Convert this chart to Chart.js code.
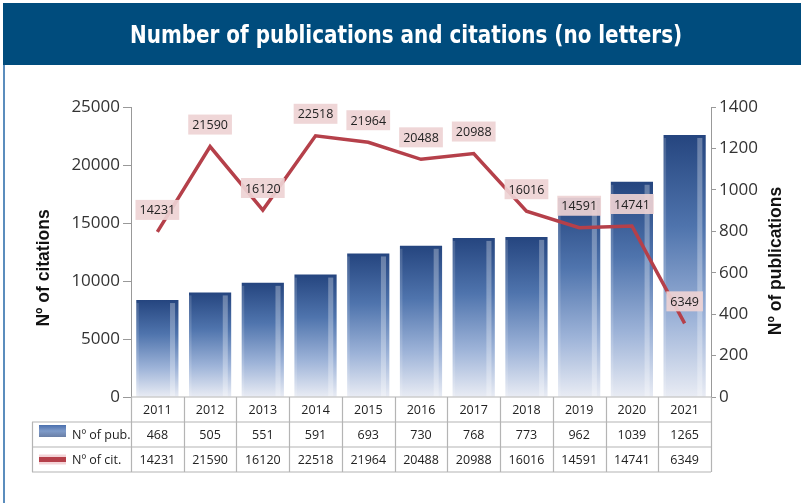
<!DOCTYPE html>
<html>
<head>
<meta charset="utf-8">
<script src="https://cdn.jsdelivr.net/npm/chart.js@4.4.1/dist/chart.umd.min.js"></script>
<style>
  html, body { margin: 0; padding: 0; background: #fff; }
  #wrap { position: relative; width: 801px; height: 503px; overflow: hidden; }
  #cv { position: absolute; left: 0; top: 0; }
  #head { position: absolute; left: 3px; top: 3px; width: 798px; height: 62px; background: #004c7d; z-index: 2; }
  #title { position: absolute; top: 0; left: 0; color: #fff; white-space: nowrap;
           font: 600 25px "Liberation Sans Narrow", "DejaVu Sans Condensed", "Open Sans", sans-serif;
           line-height: 64px; transform-origin: 0 50%; }
  #edge { position: absolute; left: 3px; top: 65px; width: 2px; height: 438px; background: #5b8dbd; z-index: 2; }
</style>
</head>
<body>
<div id="wrap">
  <canvas id="cv" width="801" height="503"></canvas>
  <div id="head"><span id="title">Number of publications and citations (no letters)</span></div>
  <div id="edge"></div>
</div>
<script>
// Datos del gráfico
const years = ['2011', '2012', '2013', '2014', '2015', '2016', '2017', '2018', '2019', '2020', '2021'];
const publications = [468, 505, 551, 591, 693, 730, 768, 773, 962, 1039, 1265];
const citations = [14231, 21590, 16120, 22518, 21964, 20488, 20988, 16016, 14591, 14741, 6349];
const citationTicks = { min: 0, max: 25000, step: 5000 };
const publicationTicks = { min: 0, max: 1400, step: 200 };
const labelPub = 'Nº of pub.';
const labelCit = 'Nº of cit.';
const titleLeft = 'Nº of citations';
const titleRight = 'Nº of publications';

// Titulo: ajustar al ancho del original
(function() {
    const t = document.getElementById('title');
    const w = t.offsetWidth;
    const target = 552;
    const s = target / w;
    t.style.transform = 'scaleX(' + s + ')';
    t.style.left = (406 - 3 - target / 2) + 'px';
})();

const RED = '#b5404a';
const TXT = '#222';
const GRID = '#b4b4b4';

function barGradient(context) {
    const chart = context.chart;
    const area = chart.chartArea;
    if (!area) return '#5a7fb8';
    const y = chart.scales.yPub;
    const top = y.getPixelForValue(context.raw);
    const bottom = y.getPixelForValue(0);
    const g = chart.ctx.createLinearGradient(0, top, 0, bottom);
    g.addColorStop(0, '#25457f');
    g.addColorStop(0.35, '#4f74ad');
    g.addColorStop(0.7, '#9db3d8');
    g.addColorStop(1, '#e9ecf4');
    return g;
}

// brillo lateral de las barras
const barShine = {
    id: 'barShine',
    afterDatasetDraw(chart, args) {
        if (args.index !== 0) return;
        const c = chart.ctx;
        c.save();
        args.meta.data.forEach(bar => {
            const w = bar.width;
            const right = bar.x + w / 2;
            c.fillStyle = 'rgba(255,255,255,0.3)';
            c.fillRect(right - w * 0.2, bar.y + 3, w * 0.12, bar.base - bar.y - 3);
            c.fillStyle = 'rgba(255,255,255,0.15)';
            c.fillRect(bar.x - w / 2, bar.y + 3, w * 0.06, bar.base - bar.y - 3);
        });
        c.restore();
    }
};

// etiquetas de citas
const citLabels = {
    id: 'citLabels',
    afterDatasetsDraw(chart) {
        const meta = chart.getDatasetMeta(1);
        const c = chart.ctx;
        c.save();
        c.font = '12.5px "Open Sans", "Liberation Sans", sans-serif';
        c.textAlign = 'center';
        c.textBaseline = 'middle';
        meta.data.forEach((pt, i) => {
            const txt = String(citations[i]);
            const w = c.measureText(txt).width + 8;
            const h = 20;
            const cy = pt.y - 22;
            c.fillStyle = 'rgba(238,210,212,0.92)';
            c.fillRect(pt.x - w / 2, cy - h / 2, w, h);
            c.fillStyle = TXT;
            c.fillText(txt, pt.x, cy + 1);
        });
        c.restore();
    }
};

// títulos de ejes + tabla de datos
const extras = {
    id: 'extras',
    afterDraw(chart) {
        const c = chart.ctx;
        const area = chart.chartArea;
        const xs = chart.scales.x;
        const n = years.length;
        const colW = (area.right - area.left) / n;
        const legendLeft = 32;
        const rowH = 25;
        const r0 = area.bottom, r1 = r0 + rowH, r2 = r1 + rowH, r3 = r2 + rowH;

        c.save();
        // títulos de ejes
        c.font = 'bold 17.5px "Liberation Sans", "Open Sans", sans-serif';
        c.fillStyle = '#111';
        c.textAlign = 'center';
        c.textBaseline = 'middle';
        c.save();
        c.translate(44, 268);
        c.rotate(-Math.PI / 2);
        c.fillText(titleLeft, 0, 0);
        c.restore();
        c.save();
        c.translate(776, 261);
        c.rotate(-Math.PI / 2);
        c.fillText(titleRight, 0, 0);
        c.restore();

        // rejilla de la tabla
        c.strokeStyle = GRID;
        c.lineWidth = 1.2;
        c.beginPath();
        c.moveTo(area.left, r0); c.lineTo(area.right, r0);
        [r1, r2, r3].forEach(y => { c.moveTo(legendLeft, y); c.lineTo(area.right, y); });
        for (let i = 0; i <= n; i++) {
            const x = Math.round(area.left + i * colW) + 0.5;
            c.moveTo(x, r0); c.lineTo(x, r3);
        }
        c.moveTo(legendLeft + 0.5, r1); c.lineTo(legendLeft + 0.5, r3);
        c.stroke();

        // textos de la tabla
        c.font = '12.5px "Open Sans", "Liberation Sans", sans-serif';
        c.fillStyle = TXT;
        years.forEach((yr, i) => {
            const x = xs.getPixelForValue(i);
            c.fillText(yr, x, (r0 + r1) / 2 + 1);
            c.fillText(String(publications[i]), x, (r1 + r2) / 2 + 1);
            c.fillText(String(citations[i]), x, (r2 + r3) / 2 + 1);
        });

        // leyenda
        const sx = legendLeft + 7, sw = 27;
        const g = c.createLinearGradient(0, r1 + 3, 0, r1 + 15);
        g.addColorStop(0, '#4a6fae');
        g.addColorStop(0.5, '#7f9bc9');
        g.addColorStop(1, '#6a7fa6');
        c.fillStyle = g;
        c.fillRect(sx, r1 + 3, sw, 12);
        c.fillStyle = 'rgba(240,200,205,0.8)';
        c.fillRect(sx, (r2 + r3) / 2 - 5, sw, 10);
        c.fillStyle = RED;
        c.fillRect(sx, (r2 + r3) / 2 - 2.5, sw, 5);
        c.fillStyle = TXT;
        c.textAlign = 'left';
        c.fillText(labelPub, sx + sw + 6, (r1 + r2) / 2 + 1);
        c.fillText(labelCit, sx + sw + 6, (r2 + r3) / 2 + 1);
        c.restore();
    }
};

const tickFont = { family: '"Open Sans", "Liberation Sans", sans-serif', size: 17 };
const plain = v => String(v);

new Chart(document.getElementById('cv'), {
    type: 'bar',
    data: {
        labels: years,
        datasets: [{
            label: labelPub,
            data: publications,
            yAxisID: 'yPub',
            backgroundColor: barGradient,
            barPercentage: 0.8,
            categoryPercentage: 1,
            order: 1
        }, {
            type: 'line',
            label: labelCit,
            data: citations,
            yAxisID: 'yCit',
            borderColor: RED,
            borderWidth: 3.5,
            pointRadius: 0,
            tension: 0,
            order: 0
        }]
    },
    options: {
        responsive: false,
        animation: false,
        layout: { padding: { top: 107, bottom: 106, left: 0, right: 0 }, autoPadding: false },
        plugins: { legend: { display: false }, tooltip: { enabled: false } },
        scales: {
            x: { display: false },
            yCit: {
                position: 'left',
                min: citationTicks.min, max: citationTicks.max,
                ticks: { stepSize: citationTicks.step, font: tickFont, color: '#333', padding: 3, callback: plain },
                grid: { drawOnChartArea: false, tickLength: 8, color: '#999' },
                border: { color: '#999' },
                afterFit(s) { s.width = 131; }
            },
            yPub: {
                position: 'right',
                min: publicationTicks.min, max: publicationTicks.max,
                ticks: { stepSize: publicationTicks.step, font: tickFont, color: '#333', padding: 3, callback: plain },
                grid: { drawOnChartArea: false, tickLength: 5, color: '#999' },
                border: { color: '#999' },
                afterFit(s) { s.width = 90; }
            }
        }
    },
    plugins: [barShine, citLabels, extras]
});
</script>
</body>
</html>
